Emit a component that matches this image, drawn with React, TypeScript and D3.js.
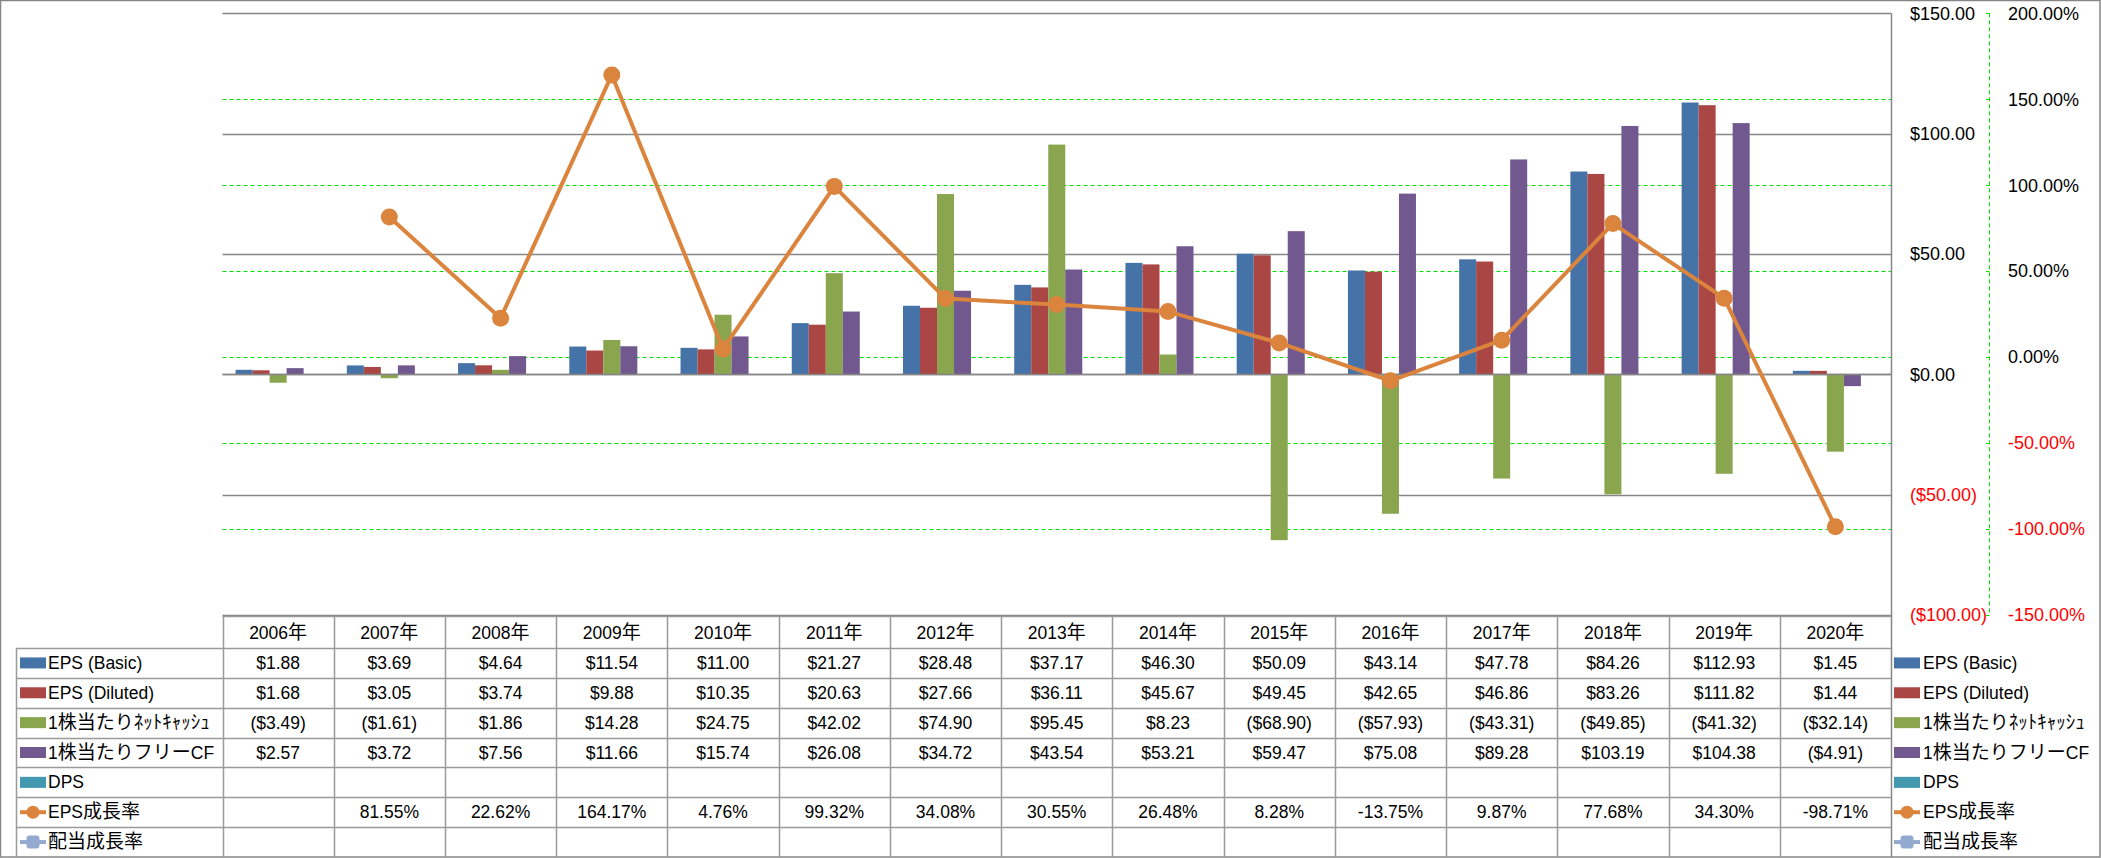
import React from "react";
import * as d3 from "d3";

const years = ["2006年","2007年","2008年","2009年","2010年","2011年","2012年","2013年","2014年","2015年","2016年","2017年","2018年","2019年","2020年"];
const epsBasic = [1.88,3.69,4.64,11.54,11.00,21.27,28.48,37.17,46.30,50.09,43.14,47.78,84.26,112.93,1.45];
const epsDiluted = [1.68,3.05,3.74,9.88,10.35,20.63,27.66,36.11,45.67,49.45,42.65,46.86,83.26,111.82,1.44];
const netCash = [-3.49,-1.61,1.86,14.28,24.75,42.02,74.90,95.45,8.23,-68.90,-57.93,-43.31,-49.85,-41.32,-32.14];
const freeCF = [2.57,3.72,7.56,11.66,15.74,26.08,34.72,43.54,53.21,59.47,75.08,89.28,103.19,104.38,-4.91];
const dps: (number|null)[] = years.map(() => null);
const epsGrowth: (number|null)[] = [null,0.8155,0.2262,1.6417,0.0476,0.9932,0.3408,0.3055,0.2648,0.0828,-0.1375,0.0987,0.7768,0.3430,-0.9871];
const divGrowth: (number|null)[] = years.map(() => null);

const dollarTicks = [150,100,50,0,-50,-100];
const pctTicks = [2.0,1.5,1.0,0.5,0,-0.5,-1.0,-1.5];

const barSeries = [
  { name: "EPS (Basic)", values: epsBasic, color: "#4572A7" },
  { name: "EPS (Diluted)", values: epsDiluted, color: "#AA4643" },
  { name: "1株当たりﾈｯﾄｷｬｯｼｭ", values: netCash, color: "#89A54E" },
  { name: "1株当たりフリーCF", values: freeCF, color: "#71588F" },
  { name: "DPS", values: dps, color: "#4198AF" },
];
const lineSeries = [
  { name: "EPS成長率", values: epsGrowth, color: "#DB843D", marker: "circle" },
  { name: "配当成長率", values: divGrowth, color: "#93A9CF", marker: "square" },
];

const W = 2101, H = 858;
const FONT = "'Liberation Sans', Arial, 'Noto Sans CJK JP', sans-serif";
const CJK_RE = /([\u3000-\u9fff\uff00-\uffef]+)/;

const fmtDollar = (v: number | null) => {
  if (v === null) return "";
  const s = "$" + Math.abs(v).toFixed(2);
  return v < 0 ? "(" + s + ")" : s;
};
const fmtPct = (v: number | null) => (v === null ? "" : (v * 100).toFixed(2) + "%");

const mixedText = (s: string) =>
  s.split(CJK_RE).filter(p => p.length > 0).map((p, i) =>
    CJK_RE.test(p)
      ? <tspan key={i} fontFamily="'Noto Sans CJK JP', sans-serif" fontSize={19}>{p}</tspan>
      : <tspan key={i}>{p}</tspan>
  );

export default function App() {
  const plotL = 222.5, plotR = 1891, plotT = 13.3, plotB = 615;
  const x = d3.scaleBand<string>().domain(years).range([plotL, plotR]).paddingInner(0).paddingOuter(0);
  const xs = d3.scaleBand<string>().domain(barSeries.map(s => s.name)).range([0, x.bandwidth()]).paddingInner(0).paddingOuter(0.77);
  const y = d3.scaleLinear().domain([-100, 150]).range([plotB, plotT]);
  const y2 = d3.scaleLinear().domain([-1.5, 2.0]).range([plotB, plotT]);

  const tableTop = 616;
  const rowsTop = 648;
  const tableBottom = 857;
  const allRows = [...barSeries.map(s => ({ ...s, kind: "bar" })), ...lineSeries.map(s => ({ ...s, kind: "line" }))];
  const rowScale = d3.scaleBand<string>().domain(allRows.map(r => r.name)).range([rowsTop, tableBottom]);

  const line = d3.line<number | null>()
    .defined(d => d !== null)
    .x((_, i) => (x(years[i]) as number) + x.bandwidth() / 2)
    .y(d => y2(d as number));

  const gridColor = "#868686";
  const tableColor = "#9A9A9A";
  const FS = 17.5;

  const legendSwatch = (r: any, sx: number, cy: number) => {
    if (r.kind === "bar") {
      return <rect x={sx} y={cy - 5.5} width={26} height={11} fill={r.color} />;
    }
    return (
      <g>
        <line x1={sx} x2={sx + 26} y1={cy} y2={cy} stroke={r.color} strokeWidth={4} />
        {r.marker === "circle"
          ? <circle cx={sx + 13} cy={cy} r={6.5} fill={r.color} />
          : <rect x={sx + 6.5} y={cy - 6.5} width={13} height={13} rx={3} fill={r.color} />}
      </g>
    );
  };

  return (
    <svg width={W} height={H} style={{ position: "absolute", left: 0, top: 0, background: "#fff" }} fontFamily={FONT}>
      <rect x={0} y={0} width={W} height={H} fill="#fff" />
      <rect x={0.5} y={0.5} width={W - 1.5} height={H - 1.5} fill="none" stroke={gridColor} strokeWidth={1.5} />

      {/* secondary dashed gridlines */}
      {pctTicks.filter(t => t !== -1.5).map(t => (
        <line key={"p" + t} x1={plotL} x2={plotR} y1={Math.round(y2(t)) + 0.5} y2={Math.round(y2(t)) + 0.5} stroke="#00E000" strokeWidth={1} strokeDasharray="4,3" />
      ))}
      {/* primary gridlines */}
      {dollarTicks.map(t => (
        <line key={"g" + t} x1={plotL} x2={plotR} y1={Math.round(y(t)) + 0.5} y2={Math.round(y(t)) + 0.5} stroke={gridColor} strokeWidth={1.5} />
      ))}
      {/* right border of plot */}
      <line x1={plotR + 0.5} x2={plotR + 0.5} y1={plotT} y2={tableBottom} stroke={gridColor} strokeWidth={1.5} />

      {/* bars */}
      {barSeries.map(s => (
        <g key={s.name}>
          {s.values.map((v, i) => v === null ? null : (
            <rect key={i}
              x={(x(years[i]) as number) + (xs(s.name) as number)}
              width={xs.bandwidth()}
              y={Math.min(y(v), y(0))}
              height={Math.abs(y(v) - y(0))}
              fill={s.color} />
          ))}
        </g>
      ))}
      {/* zero line */}
      <line x1={plotL} x2={plotR} y1={Math.round(y(0)) + 0.5} y2={Math.round(y(0)) + 0.5} stroke={gridColor} strokeWidth={1.5} />

      {/* growth line */}
      {lineSeries.map(s => (
        <g key={s.name}>
          <path d={line(s.values) || ""} fill="none" stroke={s.color} strokeWidth={4} strokeLinejoin="round" />
          {s.values.map((v, i) => v === null ? null : (
            <circle key={i} cx={(x(years[i]) as number) + x.bandwidth() / 2} cy={y2(v)} r={8.5} fill={s.color} />
          ))}
        </g>
      ))}

      {/* primary axis labels (right) */}
      {dollarTicks.map(t => (
        <text key={"dl" + t} x={1910} y={y(t)} dy="0.35em" fontSize={18} fill={t < 0 ? "#FF0000" : "#000"}>{fmtDollar(t)}</text>
      ))}
      {/* secondary axis */}
      <line x1={1989.5} x2={1989.5} y1={plotT} y2={plotB} stroke="#00E000" strokeWidth={1} strokeDasharray="4,3" />
      {pctTicks.map(t => (
        <g key={"pl" + t}>
          <line x1={1986} x2={1989.5} y1={Math.round(y2(t)) + 0.5} y2={Math.round(y2(t)) + 0.5} stroke="#00E000" strokeWidth={1} />
          <text x={2008} y={y2(t)} dy="0.35em" fontSize={18} fill={t < 0 ? "#FF0000" : "#000"}>{fmtPct(t)}</text>
        </g>
      ))}

      {/* data table */}
      <line x1={plotL} x2={plotR} y1={tableTop + 0.5} y2={tableTop + 0.5} stroke={tableColor} strokeWidth={1.5} />
      {allRows.map(r => (
        <line key={"rl" + r.name} x1={16.5} x2={plotR} y1={Math.round(rowScale(r.name) as number) + 0.5} y2={Math.round(rowScale(r.name) as number) + 0.5} stroke={tableColor} strokeWidth={1.5} />
      ))}
      <line x1={16.5} x2={16.5} y1={rowsTop} y2={tableBottom} stroke={tableColor} strokeWidth={1.5} />
      {years.map(yr => (
        <line key={"cl" + yr} x1={Math.round(x(yr) as number) + 0.5} x2={Math.round(x(yr) as number) + 0.5} y1={tableTop} y2={tableBottom} stroke={tableColor} strokeWidth={1.5} />
      ))}
      {years.map(yr => (
        <text key={"h" + yr} x={(x(yr) as number) + x.bandwidth() / 2} y={(tableTop + rowsTop) / 2 + 1} dy="0.35em" textAnchor="middle" fontSize={FS}>{mixedText(yr)}</text>
      ))}
      {allRows.map(r => {
        const cy = (rowScale(r.name) as number) + rowScale.bandwidth() / 2;
        return (
          <g key={"row" + r.name}>
            {legendSwatch(r, 20, cy)}
            <text x={48} y={cy} dy="0.35em" fontSize={FS}>{mixedText(r.name)}</text>
            {r.values.map((v: number | null, i: number) => (
              <text key={i} x={(x(years[i]) as number) + x.bandwidth() / 2} y={cy} dy="0.35em" textAnchor="middle" fontSize={FS}>
                {r.kind === "bar" ? fmtDollar(v) : fmtPct(v)}
              </text>
            ))}
            {legendSwatch(r, 1894, cy)}
            <text x={1923} y={cy} dy="0.35em" fontSize={FS}>{mixedText(r.name)}</text>
          </g>
        );
      })}
    </svg>
  );
}
